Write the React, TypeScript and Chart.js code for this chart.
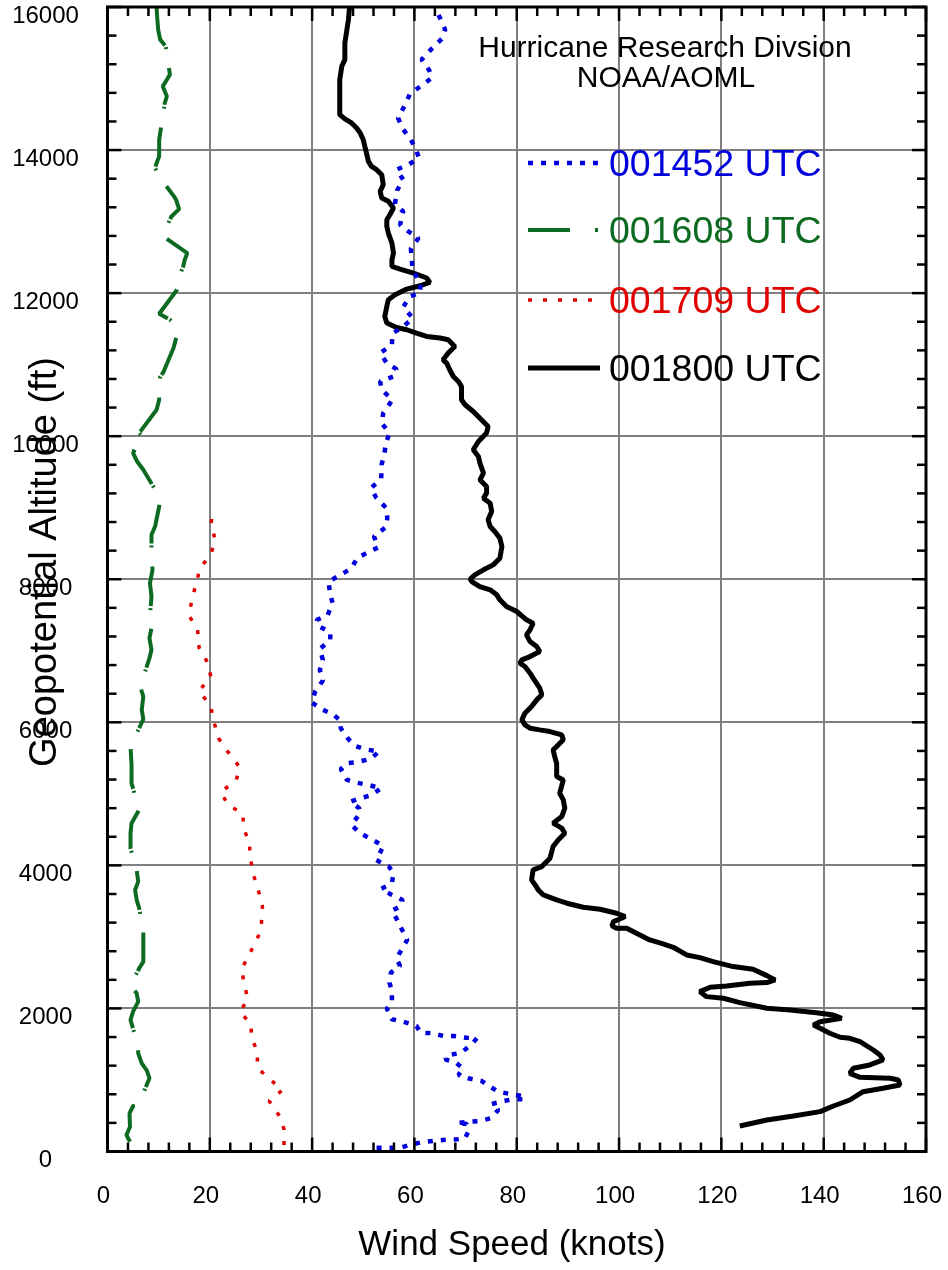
import React, { useEffect, useRef } from 'react';
import { Chart, registerables } from 'chart.js';

Chart.register(...registerables);

// ---------- data (wind speed in knots vs geopotential altitude in ft) ----------
const spd1452 = [52.6, 55.2, 57.2, 59.1, 61.4, 63.7, 65.6, 68.3, 69.9, 70.5, 70.2, 68.3, 72.8, 74.9, 76.4, 75.1, 77.4, 79.3, 81.6, 81.0, 78.7, 76.4, 74.8, 73.1, 70.5, 68.6, 69.5, 68.1, 66.0, 66.6, 69.2, 70.2, 71.4, 72.2, 70.2, 67.6, 65.6, 63.7, 61.2, 60.4, 57.8, 55.6, 54.6, 55.6, 55.6, 55.1, 55.4, 57.2, 56.5, 57.7, 58.6, 57.5, 56.5, 55.6, 57.2, 57.7, 55.6, 53.5, 55.6, 55.9, 55.0, 52.5, 53.4, 53.9, 51.5, 49.4, 47.7, 49.4, 49.2, 47.5, 49.4, 51.4, 53.5, 50.9, 48.7, 46.8, 45.6, 46.8, 48.7, 51.4, 53.1, 50.3, 48.4, 47.1, 45.6, 45.4, 44.0, 41.7, 39.9, 40.6, 42.1, 41.5, 42.1, 41.5, 43.5, 43.6, 41.4, 40.9, 43.0, 44.0, 43.5, 43.2, 45.6, 47.7, 48.8, 51.2, 52.9, 52.1, 54.4, 54.7, 54.4, 52.5, 51.5, 53.5, 53.6, 54.1, 54.4, 55.1, 53.6, 53.9, 55.7, 53.6, 53.3, 55.9, 56.5, 54.6, 53.3, 55.6, 55.7, 57.5, 59.7, 57.8, 59.1, 61.1, 61.2, 59.6, 59.5, 59.3, 60.8, 58.8, 57.2, 57.8, 56.2, 56.6, 57.8, 56.5, 59.0, 60.9, 60.3, 59.3, 57.6, 56.8, 58.2, 59.1, 61.2, 63.4, 62.9, 61.4, 63.4, 65.5, 66.0, 65.0, 64.0];
const alt1452 = [53, 53, 53, 91, 129, 147, 161, 170, 184, 277, 385, 400, 427, 464, 580, 664, 706, 730, 730, 776, 804, 836, 906, 986, 1023, 1070, 1163, 1242, 1289, 1345, 1382, 1443, 1513, 1583, 1590, 1615, 1615, 1653, 1661, 1755, 1815, 1849, 1997, 2105, 2249, 2361, 2501, 2594, 2696, 2850, 2958, 3111, 3255, 3367, 3424, 3517, 3587, 3671, 3751, 3891, 3983, 4076, 4193, 4272, 4370, 4450, 4566, 4729, 4799, 4892, 4939, 4976, 5079, 5125, 5157, 5195, 5345, 5428, 5442, 5489, 5591, 5624, 5671, 5764, 5918, 6034, 6114, 6188, 6281, 6430, 6584, 6733, 6873, 7027, 7143, 7255, 7339, 7433, 7493, 7666, 7806, 7968, 8062, 8155, 8295, 8388, 8444, 8598, 8729, 8855, 9003, 9143, 9274, 9404, 9610, 9740, 9894, 10044, 10183, 10323, 10509, 10649, 10765, 10835, 10938, 11022, 11162, 11278, 11442, 11511, 11651, 11805, 11954, 12001, 12141, 12327, 12467, 12621, 12770, 12864, 12956, 13142, 13250, 13436, 13586, 13726, 13805, 13889, 14005, 14145, 14309, 14449, 14635, 14784, 14891, 15008, 15114, 15264, 15418, 15567, 15684, 15847, 15990];

const spd1608 = [4.4, 3.7, 4.4, 4.3, 5.0, 6.0, 8.2, 7.7, 6.7, 6.0, 6.0, 4.5, 5.0, 6.0, 5.7, 4.5, 6.2, 7.0, 7.0, 7.0, 6.2, 5.7, 5.4, 6.0, 5.7, 4.5, 4.5, 4.7, 6.2, 4.7, 4.7, 4.5, 7.0, 6.7, 7.0, 6.4, 8.2, 8.6, 8.2, 8.6, 8.2, 8.6, 8.3, 8.8, 8.6, 8.6, 9.3, 9.7, 10.1, 10.3, 7.0, 5.8, 5.0, 5.7, 7.0, 6.2, 9.6, 10.1, 10.1, 10.3, 10.9, 12.9, 13.5, 13.4, 12.2, 10.1, 13.6, 14.0, 14.8, 15.1, 15.6, 10.9, 11.6, 12.5, 14.0, 13.4, 13.0, 10.3, 9.3, 9.6, 10.1, 10.1, 10.9, 11.2, 11.6, 10.8, 11.6, 12.2, 11.4, 10.3, 9.9, 9.7, 9.6];
const alt1608 = [137, 231, 347, 534, 636, 650, 1023, 1130, 1233, 1373, 1475, 1839, 1955, 2095, 2212, 2319, 2562, 2655, 2864, 3098, 3401, 3517, 3657, 3773, 3937, 4240, 4450, 4590, 4776, 5149, 5400, 5661, 6044, 6174, 6360, 6500, 6897, 7013, 7177, 7316, 7409, 7758, 7946, 8132, 8295, 8621, 8737, 8877, 9017, 9134, 9530, 9646, 9763, 9880, 9973, 10044, 10369, 10509, 10695, 10835, 10891, 11232, 11394, 11534, 11628, 11712, 12047, 12233, 12373, 12467, 12560, 12793, 12933, 13072, 13175, 13306, 13352, 13609, 13749, 13819, 13912, 14145, 14518, 14658, 14751, 14891, 14984, 15054, 15450, 15544, 15684, 15870, 15990];

const spd1709 = [34.5, 34.5, 33.7, 31.6, 34.2, 31.6, 29.3, 29.3, 28.2, 28.0, 25.9, 27.4, 26.7, 26.2, 28.0, 29.5, 30.1, 30.3, 29.5, 28.5, 28.0, 27.7, 26.7, 26.4, 23.5, 22.2, 25.1, 25.9, 23.5, 21.7, 20.7, 20.2, 17.9, 20.2, 19.7, 17.9, 17.6, 15.9, 16.5, 17.3, 18.1, 20.2, 21.1, 20.2, 20.6];
const alt1709 = [91, 310, 487, 706, 860, 1018, 1172, 1396, 1583, 1787, 1951, 2133, 2361, 2548, 2794, 3014, 3200, 3423, 3647, 3877, 4076, 4318, 4506, 4729, 4845, 5032, 5181, 5367, 5591, 5778, 6034, 6220, 6444, 6631, 6817, 7045, 7302, 7493, 7712, 7936, 8155, 8351, 8551, 8751, 8961];

const spd1800 = [123.6, 128.9, 134.1, 139.3, 141.9, 145.1, 147.7, 151.6, 154.9, 154.6, 153.0, 147.1, 145.1, 145.8, 149.0, 151.6, 151.0, 149.7, 147.1, 145.1, 143.2, 141.2, 139.3, 138.0, 139.3, 143.5, 141.9, 138.6, 133.4, 128.9, 123.6, 120.4, 117.1, 115.8, 117.8, 121.0, 125.6, 128.9, 130.5, 128.9, 126.2, 122.3, 118.4, 115.8, 113.2, 110.6, 108.6, 106.0, 103.4, 101.5, 99.5, 98.6, 98.9, 100.5, 101.2, 99.5, 96.3, 93.0, 89.8, 87.8, 85.2, 84.2, 83.6, 82.9, 83.2, 84.9, 86.5, 87.1, 88.1, 89.4, 88.8, 87.1, 88.8, 89.4, 89.1, 88.4, 89.1, 87.8, 87.8, 87.5, 87.1, 87.8, 89.1, 88.8, 86.5, 84.5, 82.6, 81.6, 81.0, 81.6, 82.9, 83.9, 84.9, 84.5, 83.2, 82.6, 81.6, 80.6, 81.0, 82.6, 84.5, 83.9, 82.6, 81.9, 82.6, 83.2, 81.9, 80.0, 78.0, 76.7, 76.1, 74.8, 72.8, 71.2, 70.9, 71.8, 73.5, 75.4, 76.7, 77.1, 76.7, 75.7, 74.8, 74.4, 75.1, 74.8, 73.5, 74.1, 74.1, 72.8, 73.5, 72.8, 72.5, 71.5, 72.5, 74.1, 74.4, 73.1, 71.5, 69.9, 69.2, 69.2, 68.6, 67.6, 66.9, 66.3, 65.6, 66.6, 67.9, 66.6, 65.0, 62.4, 60.4, 58.5, 56.5, 54.6, 54.2, 54.6, 54.9, 56.2, 58.5, 61.1, 63.0, 62.4, 59.8, 57.2, 55.6, 55.6, 55.9, 55.6, 54.9, 54.6, 54.6, 55.2, 55.9, 54.9, 53.6, 53.3, 53.9, 53.6, 52.6, 51.6, 51.0, 50.7, 50.3, 50.0, 49.4, 48.7, 47.7, 46.4, 45.4, 45.4, 45.4, 45.8, 46.4, 46.4, 46.8, 47.1, 47.3];
const alt1800 = [357, 440, 496, 557, 636, 720, 836, 884, 930, 1000, 1023, 1037, 1093, 1163, 1210, 1280, 1349, 1419, 1535, 1583, 1597, 1653, 1723, 1769, 1815, 1862, 1909, 1941, 1979, 2002, 2081, 2142, 2165, 2235, 2296, 2314, 2352, 2361, 2398, 2459, 2548, 2585, 2655, 2711, 2748, 2855, 2902, 2958, 3051, 3121, 3121, 3154, 3214, 3261, 3284, 3331, 3387, 3415, 3471, 3517, 3587, 3657, 3727, 3797, 3937, 3983, 4100, 4263, 4356, 4450, 4520, 4590, 4682, 4799, 4915, 5009, 5195, 5241, 5428, 5498, 5615, 5661, 5755, 5824, 5871, 5894, 5918, 5964, 6034, 6128, 6221, 6314, 6384, 6477, 6617, 6687, 6780, 6827, 6873, 6919, 6989, 7059, 7129, 7223, 7293, 7386, 7433, 7549, 7619, 7712, 7782, 7852, 7898, 7968, 8002, 8062, 8132, 8201, 8295, 8458, 8575, 8668, 8737, 8831, 8947, 9064, 9134, 9204, 9297, 9390, 9484, 9624, 9717, 9810, 9926, 10044, 10136, 10229, 10346, 10439, 10509, 10695, 10765, 10835, 10929, 11022, 11068, 11162, 11255, 11348, 11372, 11395, 11442, 11488, 11520, 11582, 11674, 11814, 11907, 11977, 12056, 12103, 12150, 12211, 12281, 12336, 12373, 12467, 12560, 12700, 12840, 12933, 13026, 13096, 13190, 13283, 13329, 13422, 13516, 13656, 13726, 13772, 13842, 13935, 14052, 14145, 14239, 14309, 14379, 14435, 14495, 14705, 14984, 15171, 15264, 15497, 15684, 15824, 15990];

const seriesNames = ['001452 UTC', '001608 UTC', '001709 UTC', '001800 UTC'];
const titleLines = ['Hurricane Research Divsion', 'NOAA/AOML'];
const xAxisTitle = 'Wind Speed (knots)';
const yAxisTitle = 'Geopotential Altitude (ft)';
const xMin = 0, xMax = 160, xMajor = 20, xMinor = 4;
const yMin = 0, yMax = 16000, yMajor = 2000, yMinor = 400;

// ---------- styles ----------
const FONT = "'Liberation Sans', Arial, Helvetica, sans-serif";
const colors = ['#0000dc', '#0d6b21', '#e00000', '#000000'];
const dashes = [[5, 8], [40, 19, 2, 2], [4, 11], []];
const legendDashes = [[5, 8], [42, 25, 3, 200], [4, 11], []];
const widths = [4.5, 4, 3.5, 5];

const pts = (s: number[], a: number[]) => s.map((v, i) => ({ x: v, y: a[i] }));

const decorPlugin = {
  id: 'decor',
  afterDraw(chart: any) {
    const { ctx, chartArea: a, scales } = chart;
    const xs = scales.x, ys = scales.y;
    ctx.save();
    ctx.strokeStyle = '#000';
    ctx.lineCap = 'butt';
    ctx.lineWidth = 2.5;
    const seg = (x1: number, y1: number, x2: number, y2: number) => {
      ctx.beginPath(); ctx.moveTo(x1, y1); ctx.lineTo(x2, y2); ctx.stroke();
    };
    for (let v = xMin; v <= xMax; v += xMinor) {
      const p = xs.getPixelForValue(v);
      const len = v % xMajor === 0 ? 14 : 9;
      seg(p, a.bottom, p, a.bottom - len);
      seg(p, a.top, p, a.top + len);
    }
    for (let v = yMin; v <= yMax; v += yMinor) {
      const p = ys.getPixelForValue(v);
      const len = v % yMajor === 0 ? 14 : 9;
      seg(a.left, p, a.left + len, p);
      seg(a.right, p, a.right - len, p);
    }
    ctx.lineWidth = 3;
    ctx.strokeRect(a.left, a.top, a.right - a.left, a.bottom - a.top);

    // title
    ctx.fillStyle = '#000';
    ctx.textAlign = 'center';
    ctx.textBaseline = 'alphabetic';
    ctx.font = `30px ${FONT}`;
    ctx.fillText(titleLines[0], 665, 56.5);
    ctx.fillText(titleLines[1], 666, 86.5);

    // legend
    const rows = [163, 230, 300, 368];
    seriesNames.forEach((name, i) => {
      ctx.save();
      ctx.strokeStyle = colors[i];
      ctx.lineWidth = widths[i];
      ctx.setLineDash(legendDashes[i]);
      seg(528, rows[i], 600, rows[i]);
      ctx.restore();
      ctx.fillStyle = colors[i];
      ctx.textAlign = 'left';
      ctx.font = `37.5px ${FONT}`;
      ctx.fillText(name, 609, rows[i] + 13);
    });

    // axis titles
    ctx.fillStyle = '#000';
    ctx.textAlign = 'center';
    ctx.font = `35px ${FONT}`;
    ctx.fillText(xAxisTitle, 512, 1255);
    ctx.save();
    ctx.translate(56, 562);
    ctx.rotate(-Math.PI / 2);
    ctx.font = `38px ${FONT}`;
    ctx.fillText(yAxisTitle, 0, 0);
    ctx.restore();
    ctx.restore();
  },
};

export default function App() {
  const ref = useRef<HTMLCanvasElement>(null);
  useEffect(() => {
    if (!ref.current) return;
    const series = [[spd1452, alt1452], [spd1608, alt1608], [spd1709, alt1709], [spd1800, alt1800]];
    const chart = new Chart(ref.current, {
      type: 'scatter',
      data: {
        datasets: series.map((s, i) => ({
          label: seriesNames[i],
          data: pts(s[0], s[1]),
          showLine: true,
          borderColor: colors[i],
          backgroundColor: colors[i],
          borderWidth: widths[i],
          borderDash: dashes[i],
          borderJoinStyle: 'bevel',
          pointRadius: 0,
          tension: 0,
        })),
      },
      options: {
        animation: false,
        responsive: false,
        devicePixelRatio: 1,
        events: [],
        layout: { padding: { left: 0, right: 22, top: 7, bottom: 0 }, autoPadding: false },
        plugins: { legend: { display: false }, tooltip: { enabled: false }, title: { display: false } },
        scales: {
          x: {
            type: 'linear', position: 'bottom', min: xMin, max: xMax,
            ticks: {
              stepSize: xMajor, autoSkip: false, maxRotation: 0, color: '#000',
              font: { family: FONT, size: 24 }, padding: 30, labelOffset: -4,
              callback: (v: any) => String(v),
            },
            grid: { color: '#808080', lineWidth: 2, drawTicks: false },
            border: { display: false },
            afterFit: (s: any) => { s.height = 118.5; s.paddingLeft = 0; s.paddingRight = 0; },
          },
          y: {
            type: 'linear', position: 'left', min: yMin, max: yMax,
            ticks: {
              stepSize: yMajor, autoSkip: false, color: '#000', crossAlign: 'center',
              font: { family: FONT, size: 24 }, padding: 28.6, labelOffset: 9,
              callback: (v: any) => String(v),
            },
            grid: { color: '#808080', lineWidth: 2, drawTicks: false },
            border: { display: false },
            afterFit: (s: any) => { s.width = 107.5; s.paddingTop = 0; s.paddingBottom = 0; },
          },
        },
      } as any,
      plugins: [decorPlugin],
    } as any);
    return () => chart.destroy();
  }, []);
  return (
    <div style={{ position: 'fixed', left: 0, top: 0, width: 948, height: 1270, background: '#fff' }}>
      <canvas ref={ref} width={948} height={1270} style={{ display: 'block', width: 948, height: 1270 }} />
    </div>
  );
}
